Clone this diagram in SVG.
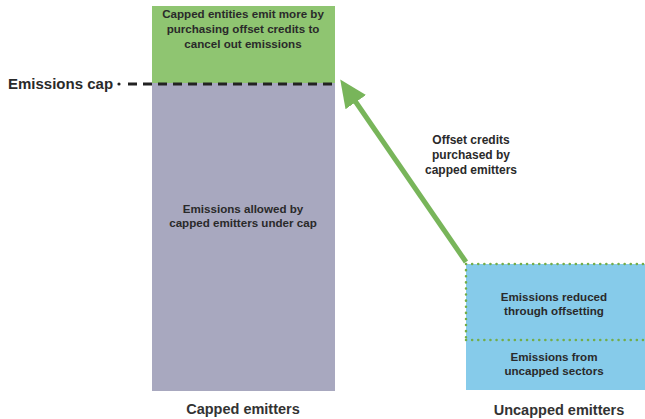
<svg xmlns="http://www.w3.org/2000/svg" width="645" height="419" viewBox="0 0 645 419">
<defs>
<style>
text{font-family:"Liberation Sans",Arial,sans-serif;font-weight:bold;text-anchor:middle;fill:#2a2a2a}
.s{font-size:11.6px}
.m{font-size:12px}
.l{font-size:14.5px;fill:#333}
.dot{fill:none;stroke:#74ad48;stroke-width:2.5;stroke-linecap:round;stroke-dasharray:0.1 6}
</style>
<marker id="ah" markerWidth="5.5" markerHeight="5" refX="1" refY="2.5" orient="auto" markerUnits="strokeWidth">
<path d="M0,0 L5.5,2.5 L0,5 Z" fill="#78b55a"/>
</marker>
</defs>
<rect width="645" height="419" fill="#fff"/>
<g id="capped-bar">
<rect x="152" y="6" width="183" height="77" fill="#8fc571"/>
<rect x="152" y="83" width="183" height="308" fill="#a8a8bf"/>
<text class="s" x="243" y="18" fill="#2d3a1e">Capped entities emit more by</text>
<text class="s" x="243" y="33">purchasing offset credits to</text>
<text class="s" x="243" y="48">cancel out emissions</text>
<text class="s" x="243" y="213">Emissions allowed by</text>
<text class="s" x="243" y="227">capped emitters under cap</text>
<text class="l" x="243" y="414">Capped emitters</text>
</g>
<g id="cap-line">
<text x="8" y="89" style="text-anchor:start;font-size:15px">Emissions cap</text>
<circle cx="119" cy="84" r="1.6" fill="#222"/>
<line x1="128" y1="84" x2="335" y2="84" stroke="#222" stroke-width="3" stroke-dasharray="9 6"/>
</g>
<g id="uncapped-box">
<rect x="466" y="264" width="179" height="126" fill="#86cbea"/>
<path class="dot" d="M466,264 H645 M466,264 V340 M466,340 H645"/>
<text class="s" x="554" y="301">Emissions reduced</text>
<text class="s" x="554" y="315">through offsetting</text>
<text class="s" x="554" y="361">Emissions from</text>
<text class="s" x="554" y="375">uncapped sectors</text>
<text class="l" x="559" y="415">Uncapped emitters</text>
</g>
<g id="connectors">
<line x1="466" y1="262" x2="353" y2="98" stroke="#78b55a" stroke-width="5" marker-end="url(#ah)"/>
<text class="m" x="471" y="144">Offset credits</text>
<text class="m" x="471" y="159">purchased by</text>
<text class="m" x="471" y="174">capped emitters</text>
</g>
</svg>
